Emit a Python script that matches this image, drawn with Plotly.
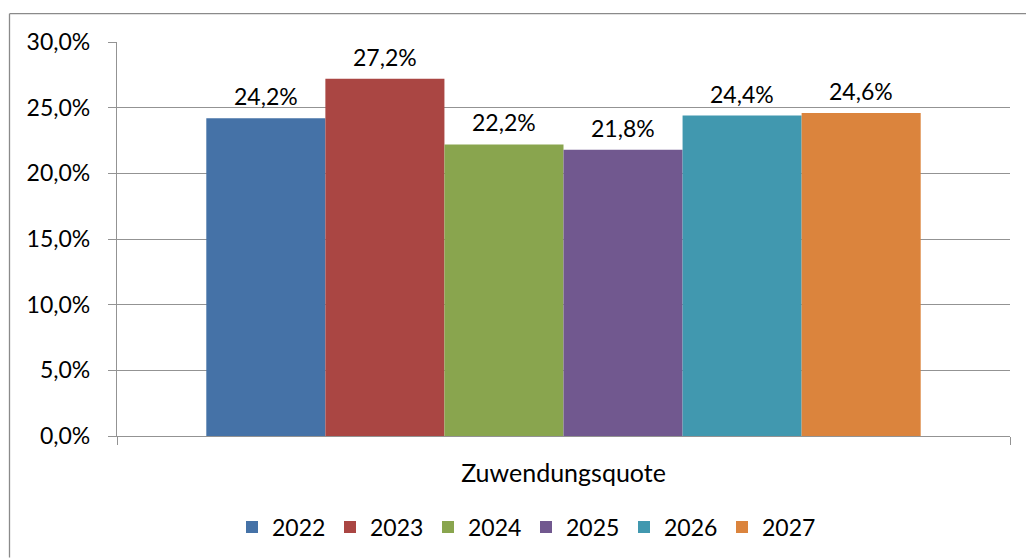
import plotly.graph_objects as go

# data
category = ['Zuwendungsquote']
years = ['2022', '2023', '2024', '2025', '2026', '2027']
quote = [24.2, 27.2, 22.2, 21.8, 24.4, 24.6]
colors = ['#4572A7', '#AA4643', '#89A54E', '#71588F', '#4198AF', '#DB843D']

W, H = 1026, 560
ml, mt = 117, 42
pw, ph = 893, 396
mr, mb = W - ml - pw, H - mt - ph
bargap = 0.2
font = 'Lato, Carlito, Calibri, sans-serif'
grid = '#939393'

fig = go.Figure()
for yr, v, c in zip(years, quote, colors):
    fig.add_trace(go.Bar(x=category, y=[v], name=yr, marker=dict(color=c, line=dict(width=0))))

# data labels above each bar (x position from the group layout)
n = len(years)
annotations = []
for i, v in enumerate(quote):
    annotations.append(dict(
        x=(i - (n - 1) / 2) * (1 - bargap) / n, xref='x',
        y=v, yref='y', yanchor='middle', yshift=22,
        text=f'{v:.1f}%'.replace('.', ','), showarrow=False,
        font=dict(size=23, color='#000', family=font)))

# helpers: screen pixel -> paper coords
def px_x(px):
    return (px - ml) / pw

def px_y(py):
    return (H - mb - py) / ph

# outer chart frame: only top and left edges are inside the picture
frame_line = dict(color='#8a8a8a', width=1.3)
shapes = [
    dict(type='line', xref='paper', yref='paper', x0=px_x(9.5), x1=px_x(W),
         y0=px_y(13.5), y1=px_y(13.5), line=frame_line, layer='below'),
    dict(type='line', xref='paper', yref='paper', x0=px_x(9.5), x1=px_x(9.5),
         y0=px_y(13.5), y1=px_y(H), line=frame_line, layer='below'),
]

fig.update_layout(
    width=W, height=H,
    margin=dict(l=ml, r=mr, t=mt, b=mb, pad=0),
    paper_bgcolor='white', plot_bgcolor='white',
    barmode='group', bargap=bargap, bargroupgap=0,
    separators=',.',
    font=dict(family=font, size=23, color='#000'),
    showlegend=True,
    legend=dict(orientation='h', x=px_x(232), xanchor='left',
                y=px_y(529.5), yanchor='middle',
                entrywidth=53, entrywidthmode='pixels', itemwidth=30,
                font=dict(size=23, family=font, color='#000'),
                traceorder='normal', bgcolor='rgba(0,0,0,0)'),
    annotations=annotations,
    shapes=shapes,
    xaxis=dict(type='category', showline=True, linecolor=grid, linewidth=1.3,
               ticks='outside', ticklen=8, tickcolor=grid, tickwidth=1.3,
               tickson='boundaries', ticklabelstandoff=15,
               tickfont=dict(size=25),
               showgrid=False, zeroline=False),
    yaxis=dict(range=[0, 30], dtick=5, tickformat='.1f', ticksuffix='%',
               showline=True, linecolor=grid, linewidth=1.3,
               ticks='outside', ticklen=8, tickcolor=grid, tickwidth=1.3,
               ticklabelstandoff=13,
               showgrid=True, gridcolor=grid, gridwidth=1.3, zeroline=False),
)

# drop the default 8px page margin so the figure fills the window
fig.write_html('out.html', config={'displayModeBar': False},
               post_script="document.body.style.margin='0';")
